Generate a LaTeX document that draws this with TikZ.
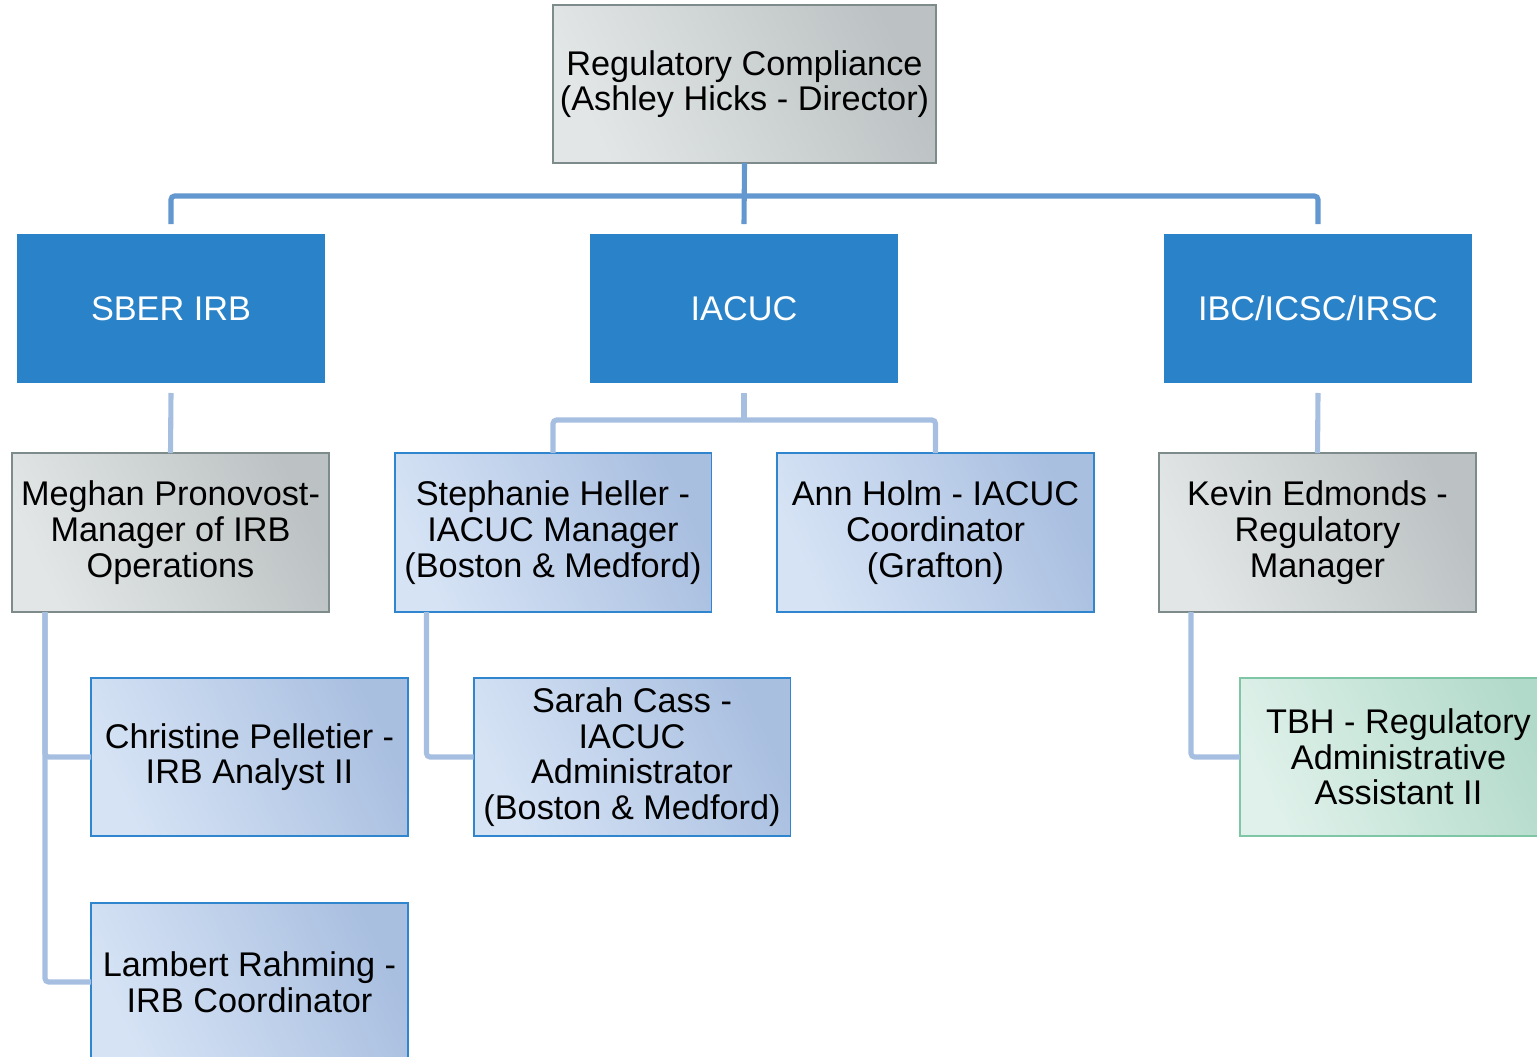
\documentclass[tikz,border=0pt]{standalone}
\usepackage{fontspec}
\setmainfont{Liberation Sans}
\usetikzlibrary{calc}
\definecolor{grayL}{HTML}{E2E6E6}
\definecolor{grayR}{HTML}{BCC2C3}
\definecolor{grayB}{HTML}{7E8B8B}
\definecolor{lbL}{HTML}{D6E3F5}
\definecolor{lbR}{HTML}{A9BFE0}
\definecolor{lbB}{HTML}{2F86CF}
\definecolor{grL}{HTML}{DFF1EA}
\definecolor{grR}{HTML}{B2DACA}
\definecolor{grB}{HTML}{7FC6A6}
\definecolor{deepblue}{HTML}{2A83C8}
\definecolor{topline}{HTML}{6397D0}
\definecolor{lowline}{HTML}{A6BEE0}
\tikzset{
  boxbase/.style={rectangle, align=center, inner sep=2pt, outer sep=0pt, line width=1.1pt,
    font=\fontsize{19.5}{20.3}\selectfont},
  graybox/.style={boxbase, draw=grayB, left color=grayL, right color=grayR, shading angle=115,
    minimum width=6.34cm, minimum height=3.18cm},
  lbbox/.style={boxbase, draw=lbB, left color=lbL, right color=lbR, shading angle=115,
    minimum width=6.34cm, minimum height=3.16cm},
  grbox/.style={boxbase, draw=grB, left color=grL, right color=grR, shading angle=115,
    minimum width=6.34cm, minimum height=3.16cm},
  bluebox/.style={boxbase, draw=deepblue, fill=deepblue, text=white,
    minimum width=6.12cm, minimum height=2.94cm},
  topconn/.style={draw=topline, line width=2.9pt, rounded corners=2pt},
  lowconn/.style={draw=lowline, line width=2.9pt, rounded corners=2pt},
}
\begin{document}
\begin{tikzpicture}[x=0.02cm, y=-0.02cm]
\useasboundingbox (0,0) rectangle (1537,1056);
\clip (0,0) rectangle (1537,1056);
% nodes
\node[graybox, minimum width=7.66cm, minimum height=3.16cm] (top) at (744.5,84) {Regulatory Compliance\\(Ashley Hicks - Director)};
\node[bluebox] (sber) at (171,308.5) {SBER IRB};
\node[bluebox] (iacuc) at (744,308.5) {IACUC};
\node[bluebox] (ibc) at (1318,308.5) {IBC/ICSC/IRSC};
\node[graybox] (meghan) at (170.5,532.5) {Meghan Pronovost-\\Manager of IRB\\Operations};
\node[lbbox, minimum height=3.18cm] (steph) at (553,532.5) {Stephanie Heller -\\IACUC Manager\\(Boston \& Medford)};
\node[lbbox, minimum height=3.18cm] (ann) at (935.5,532.5) {Ann Holm - IACUC\\Coordinator\\(Grafton)};
\node[graybox] (kevin) at (1317.5,532.5) {Kevin Edmonds -\\Regulatory\\Manager};
\node[lbbox] (christine) at (249.5,757) {Christine Pelletier -\\IRB Analyst II};
\node[lbbox] (sarah) at (632,757) {Sarah Cass -\\IACUC\\Administrator\\(Boston \& Medford)};
\node[grbox] (tbh) at (1398.5,757) {TBH - Regulatory\\Administrative\\Assistant II};
\node[lbbox] (lambert) at (249.5,982) {Lambert Rahming -\\IRB Coordinator};
% top level connectors
\coordinate (bus) at (744.5,196);
\draw[topconn] ($(sber.north)+(0,0.22cm)$) |- (bus) -| ($(ibc.north)+(0,0.22cm)$);
\draw[topconn] (top.south) -- ($(iacuc.north)+(0,0.22cm)$);
% second level connectors
\coordinate (ibus) at (744,420);
\draw[lowconn] ($(sber.south)+(0,-0.22cm)$) -- (meghan.north);
\draw[lowconn] ($(ibc.south)+(0,-0.22cm)$) -- (kevin.north);
\draw[lowconn] ($(iacuc.south)+(0,-0.22cm)$) -- (ibus);
\draw[lowconn] (steph.north) |- (ibus) -| (ann.north);
% third level connectors
\coordinate (mtrunk) at ($(meghan.south west)+(0.66cm,0)$);
\coordinate (strunk) at ($(steph.south west)+(0.64cm,0)$);
\coordinate (ktrunk) at ($(kevin.south west)+(0.64cm,0)$);
\draw[lowconn] (mtrunk) |- (christine.west);
\draw[lowconn] (mtrunk) |- (lambert.west);
\draw[lowconn] (strunk) |- (sarah.west);
\draw[lowconn] (ktrunk) |- (tbh.west);
\end{tikzpicture}
\end{document}
